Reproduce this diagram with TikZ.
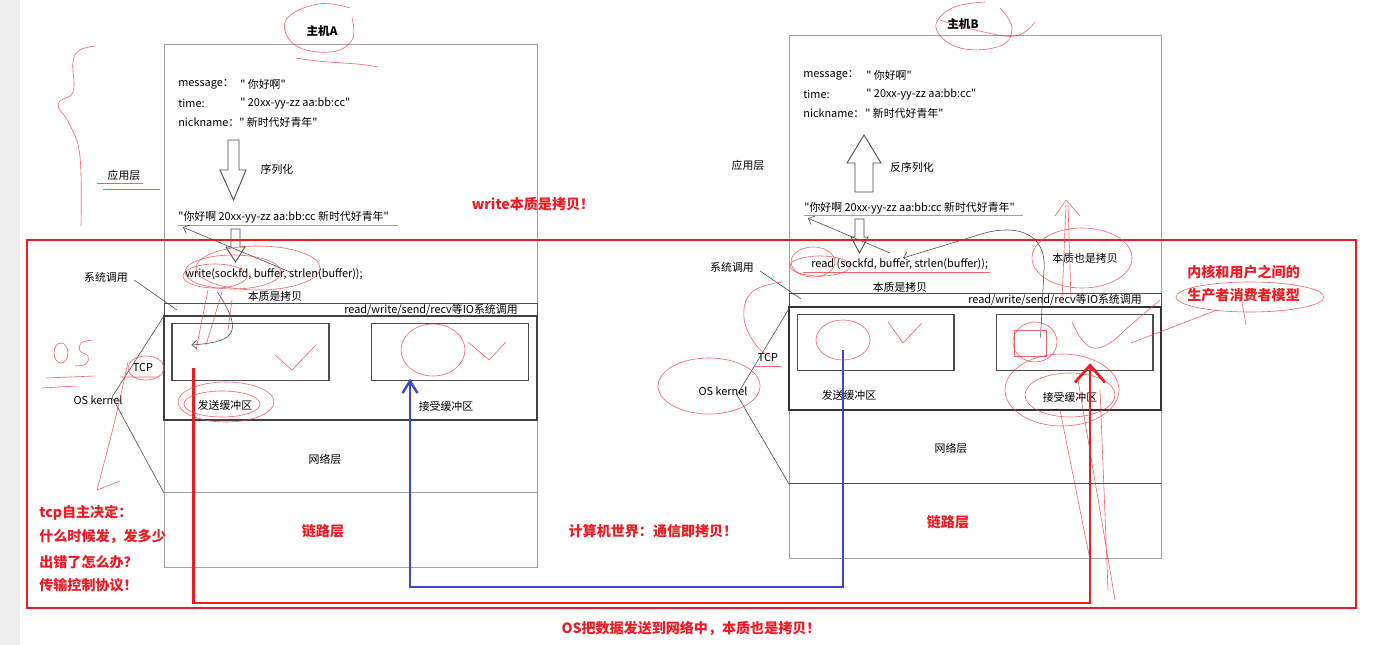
\documentclass[tikz,border=0pt]{standalone}
\usepackage{fontspec}
\setmainfont{Noto Sans CJK SC}[Ligatures=TeXOff]
\usetikzlibrary{positioning, arrows.meta, calc}

\definecolor{paintred}{RGB}{237,28,36}
\definecolor{paintblue}{RGB}{63,72,204}
\definecolor{boxgray}{RGB}{160,160,160}
\newcommand{\sq}{\symbol{34}}

\begin{document}
\begin{tikzpicture}[x=0.02cm, y=-0.02cm,
  host/.style={
    rectangle, draw=boxgray, line width=0.5pt, inner sep=0pt
  },
  bar/.style={
    rectangle, draw=black!70, line width=0.5pt, inner sep=0pt,
    minimum height=0.26cm
  },
  buf/.style={
    rectangle, draw=black!70, line width=0.6pt, inner sep=0pt,
    minimum width=3.14cm, minimum height=1.13cm
  },
  txt/.style={font=\fontsize{6.2}{7.5}\selectfont, inner sep=0pt},
  ttl/.style={font=\fontsize{6.6}{8}\selectfont\bfseries, inner sep=0pt},
  note/.style={font=\fontsize{8}{9.5}\selectfont\bfseries, text=paintred, inner sep=0pt},
  hollow/.style={draw=black!70, line width=0.5pt, fill=white},
  thin/.style={draw=black!75, line width=0.3pt, -{Straight Barb[length=1mm,width=1.8mm]}},
  pipe/.style={line width=1.6pt, line join=miter},
  scribble/.style={draw=paintred!85, line width=0.35pt, opacity=0.8}
]
\useasboundingbox (0,0) rectangle (1385,645);
\fill[white] (0,0) rectangle (1385,645);
\fill[black!7] (0,0) rectangle (20,645);

% Host A
\node[host, minimum width=7.46cm, minimum height=10.46cm] (hostA) at (350.5,305.5) {};
\node[ttl] (titleA) at (322,31) {主机A};
\node[txt, anchor=west] (msgA) at (178,84) {message：};
\node[txt, anchor=west] (msgAv) at (240,84) {\sq{} 你好啊\sq{}};
\node[txt, anchor=west] (timeA) at (178,103) {time:};
\node[txt, anchor=west] (timeAv) at (240,103) {\sq{} 20xx-yy-zz aa:bb:cc\sq{}};
\node[txt, anchor=west] (nickA) at (178,122) {nickname：};
\node[txt, anchor=west] (nickAv) at (239,122) {\sq{} 新时代好青年\sq{}};
\draw[hollow] (228,140) -- (239,140) -- (239,170) -- (246,170) -- (233.5,200)
  -- (220,170) -- (228,170) -- cycle;
\node[txt] (serialA) at (277,169) {序列化};
\node[txt, anchor=west] (serA) at (178,217) {\sq{}你好啊 20xx-yy-zz aa:bb:cc 新时代好青年\sq{}};
\draw[boxgray, line width=0.5pt] (178,225) -- (398,225);
\draw[hollow] (231,229) -- (240,229) -- (240,247) -- (245,247) -- (235.5,262)
  -- (226,247) -- (231,247) -- cycle;
\node[txt, anchor=west] (writeA) at (185,274) {write(sockfd, buffer, strlen(buffer));};
\node[txt] (copyA) at (275,296) {本质是拷贝};
\node[bar, minimum width=7.46cm] (ioA) at (350.5,309.5) {};
\node[txt, anchor=east] (ioAt) at (518,309.5) {read/write/send/recv等IO系统调用};
\draw[black!75, line width=0.6pt] (164,316) rectangle (537,420);
\node[buf] (sendA) at (250.5,352) {};
\node[buf] (recvA) at (450,352) {};
\node[txt] (sendAt) at (225,405) {发送缓冲区};
\node[txt] (recvAt) at (446,406) {接受缓冲区};
\draw[boxgray, line width=0.5pt] (164,492) -- (537,492);
\node[txt] (netA) at (325,459) {网络层};
\node[note] (linkA) at (323,531) {链路层};

% Host A side labels
\node[txt] (appA) at (124,175) {应用层};
\node[txt] (sysA) at (106,277) {系统调用};
\node[txt] (tcpA) at (143,368) {TCP};
\node[txt] (kernA) at (98,400) {OS kernel};
\draw[black!75, line width=0.3pt] (sysA.east) ++(6,3) -- (177,310);
\draw[black!75, line width=0.3pt] (164,316) -- (112,397) -- (164,493);

% Host B
\node[host, minimum width=7.44cm, minimum height=10.46cm] (hostB) at (975,296.5) {};
\node[ttl] (titleB) at (963,24) {主机B};
\node[txt, anchor=west] (msgB) at (803,75) {message：};
\node[txt, anchor=west] (msgBv) at (866,75) {\sq{} 你好啊\sq{}};
\node[txt, anchor=west] (timeB) at (803,94) {time:};
\node[txt, anchor=west] (timeBv) at (866,94) {\sq{} 20xx-yy-zz aa:bb:cc\sq{}};
\node[txt, anchor=west] (nickB) at (803,113) {nickname：};
\node[txt, anchor=west] (nickBv) at (865,113) {\sq{} 新时代好青年\sq{}};
\draw[hollow] (864,135) -- (881,163) -- (873,163) -- (873,192) -- (855,192)
  -- (855,163) -- (847,163) -- cycle;
\node[txt] (deserialB) at (912,167) {反序列化};
\node[txt, anchor=west] (serB) at (804,208) {\sq{}你好啊 20xx-yy-zz aa:bb:cc 新时代好青年\sq{}};
\draw[boxgray, line width=0.5pt] (804,215) -- (1023,215);
\draw[hollow] (855,219) -- (864,219) -- (864,237) -- (868,237) -- (859.5,253)
  -- (851,237) -- (855,237) -- cycle;
\node[txt, anchor=west] (readB) at (811,264) {read (sockfd, buffer, strlen(buffer));};
\node[txt] (copyB) at (900,287) {本质是拷贝};
\node[txt] (alsoB) at (1085,258) {本质也是拷贝};
\node[bar, minimum width=7.44cm] (ioB) at (975,300) {};
\node[txt, anchor=east] (ioBt) at (1142,300) {read/write/send/recv等IO系统调用};
\draw[black!80, line width=0.6pt] (789,307) rectangle (1161,410);
\node[buf] (sendB) at (875.5,342.5) {};
\node[buf] (recvB) at (1074.5,342.5) {};
\node[txt] (sendBt) at (849,395) {发送缓冲区};
\node[txt] (recvBt) at (1070,397) {接受缓冲区};
\draw[black!70, line width=0.5pt] (789,483) -- (1161,483);
\node[txt] (netB) at (951,448) {网络层};
\node[note] (linkB) at (948,522) {链路层};

% Host B side labels
\node[txt] (appB) at (748,165) {应用层};
\node[txt] (sysB) at (732,267) {系统调用};
\node[txt] (tcpB) at (768,358) {TCP};
\node[txt] (kernB) at (723,391) {OS kernel};
\draw[black!75, line width=0.3pt] (760,271) -- (801,299);
\draw[black!75, line width=0.3pt] (790,307) -- (737,395) -- (789,484);

% thin copy arrows
\coordinate (tailA) at (290,272);
\draw[thin] (tailA) -- ($(serA.south west)+(5,4)$);
\draw[thin] ($(copyA.west)+(-30,-4)$) .. controls (246,335) and (232,342) .. ($(sendA.west)+(20,-7)$);
\coordinate (tailB) at (890,253);
\draw[thin] (tailB) -- ($(serB.south west)+(4,4)$);
\draw[thin] ($(recvB.center)+(-34,-5)$) -- (1044,270) .. controls (1047,232) and (1015,222) .. (975,236)
  -- ($(readB.west)+(92,-6)$);

% big red frame
\draw[paintred, line width=1.4pt] (27,240) rectangle (1356,608);

% data paths
\coordinate (redlow) at (0,603);
\coordinate (outA) at ($(sendA.south west)+(22,-13)$);
\coordinate (inB) at ($(recvB.south)+(15.5,-8)$);
\draw[pipe, draw=paintred, -{Straight Barb[length=0.34cm,width=0.6cm]}]
  (outA) -- (outA |- redlow) -| (inB);
\coordinate (bluelow) at (0,587);
\coordinate (outB) at ($(sendB.center)+(-32.5,7.5)$);
\coordinate (inA) at ($(recvA.south)+(-40,-2)$);
\draw[pipe, draw=paintblue, line width=1.4pt, -{Straight Barb[length=0.24cm,width=0.3cm]}]
  (outB) -- (outB |- bluelow) -| (inA);

% red remarks
\node[note] (writeNote) at (533,204) {write本质是拷贝！};
\node[note, anchor=west] (kernNote) at (1187,272) {内核和用户之间的};
\node[note, anchor=west] (prodNote) at (1187,295) {生产者消费者模型};
\node[note, anchor=west] (tcpNote1) at (39,513) {tcp自主决定：};
\node[note, anchor=west] (tcpNote2) at (39,537) {什么时候发，发多少};
\node[note, anchor=west] (tcpNote3) at (39,562) {出错了怎么办？};
\node[note, anchor=west] (tcpNote4) at (39,585) {传输控制协议！};
\node[note] (worldNote) at (653,531) {计算机世界：通信即拷贝！};
\node[note] (osNote) at (691,628) {OS把数据发送到网络中，本质也是拷贝！};

% hand scribbles
\draw[scribble] plot[smooth, tension=0.7] coordinates {(96,46) (80,50) (73,62) (73,92) (58,104) (70,125) (80,157) (81,226)};
\draw[scribble] (97,183) -- (143,183) (103,189) -- (160,189);
\draw[scribble] plot[smooth, tension=0.7] coordinates {(350,8) (318,4) (286,20) (295,45) (330,52) (352,40) (352,18)};
\draw[scribble] (296,58) .. controls (330,64) and (355,62) .. (378,67);
\draw[scribble] plot[smooth, tension=0.7] coordinates {(985,2) (952,8) (936,28) (960,48) (1000,46) (1012,28) (1000,8)};
\draw[scribble] plot[smooth, tension=0.7] coordinates {(940,20) (975,30) (1015,36) (1035,22)};
\draw[scribble] -{Straight Barb[length=1mm,width=1.8mm]} (305,297) .. controls (400,300) and (430,255) .. (474,206);
\draw[scribble] (233,272) ellipse [x radius=48, y radius=17];
\draw[scribble] (258,268) ellipse [x radius=62, y radius=22];
\draw[scribble] (215,276) ellipse [x radius=32, y radius=12];
\draw[scribble] (208,290) -- (196,350) (222,292) -- (206,345) (232,300) -- (228,330);
\draw[scribble] (146,368) ellipse [x radius=18, y radius=12];
\draw[scribble] (61,353) ellipse [x radius=7, y radius=10];
\draw[scribble] plot[smooth, tension=0.7] coordinates {(92,340) (81,343) (80,351) (88,356) (86,364) (75,366)};
\draw[scribble] (46,378) -- (95,376) (42,388) -- (76,386) (120,377) -- (158,377);
\draw[scribble] plot[smooth, tension=0.7] coordinates {(128,362) (115,420) (97,490)} -- (120,481);
\draw[scribble] (222,404) ellipse [x radius=38, y radius=13];
\draw[scribble] (226,402) ellipse [x radius=48, y radius=20];
\draw[scribble] (275,355) -- (292,370) -- (316,345);
\draw[scribble] (433,350) ellipse [x radius=32, y radius=26];
\draw[scribble] (468,342) -- (489,360) -- (506,342);
\draw[scribble] (813,262) ellipse [x radius=22, y radius=15];
\draw[scribble] (820,266) ellipse [x radius=30, y radius=10];
\draw[scribble] (803,272) -- (990,272);
\draw[scribble] (843,340) ellipse [x radius=27, y radius=20];
\draw[scribble] (888,322) -- (903,343) -- (922,323);
\draw[scribble] (709,386) ellipse [x radius=51, y radius=28];
\draw[scribble] (755,366) -- (781,366);
\draw[scribble] plot[smooth, tension=0.7] coordinates {(782,282) (752,292) (744,318) (756,345) (772,358)};
\draw[scribble] (1082,258) ellipse [x radius=50, y radius=30];
\draw[scribble] (1070,395) ellipse [x radius=45, y radius=22];
\draw[scribble] (1062,390) ellipse [x radius=57, y radius=36];
\draw[scribble] (1035,342) ellipse [x radius=22, y radius=20];
\draw[scribble] (1014,330) rectangle (1046,356);
\draw[scribble] (1062,300) -- (1066,205) (1071,300) -- (1068,205) (1055,216) -- (1066,200) -- (1080,216);
\draw[scribble] (1072,322) .. controls (1085,350) and (1095,360) .. (1125,330) -- (1160,300);
\draw[scribble] (1131,343) -- (1217,310);
\draw[scribble] (1250,297) ellipse [x radius=74, y radius=15];
\draw[scribble] (1242,302) -- (1246,325);
\draw[scribble] (1078,380) -- (1115,600) (1100,390) -- (1108,590) (1060,410) -- (1090,560);

\end{tikzpicture}
\end{document}
